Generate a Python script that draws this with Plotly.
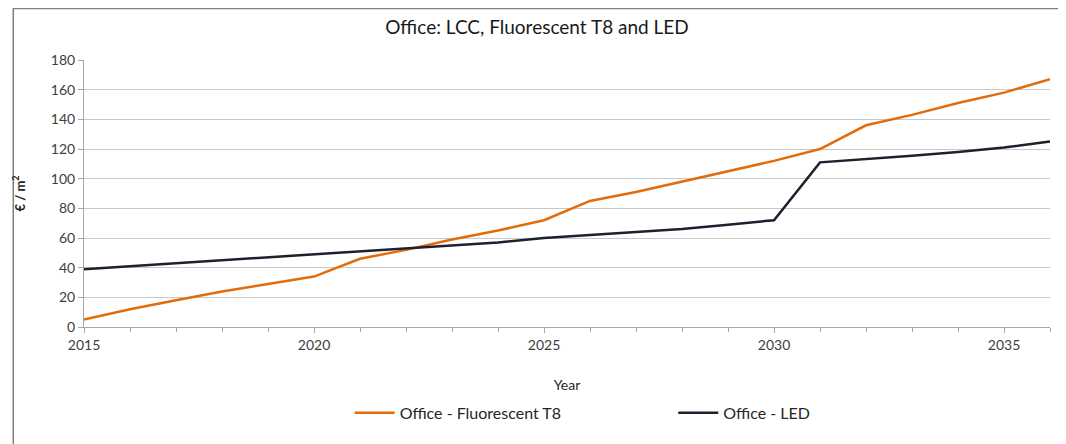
import plotly.graph_objects as go

# Data
years = list(range(2015, 2037))
fluorescent_t8 = [5, 12, 18, 24, 29, 34, 46, 52, 59, 65, 72, 85, 91, 98, 105,
                  112, 120, 136, 143, 151, 158, 167]
led = [39, 41, 43, 45, 47, 49, 51, 53, 55, 57, 60, 62, 64, 66, 69,
       72, 111, 113, 115.5, 118, 121, 125]
x_ticks = [2015, 2020, 2025, 2030, 2035]
y_ticks = [0, 20, 40, 60, 80, 100, 120, 140, 160, 180]

FONT = "Lato"
GRID = "#c8c8c8"
AXIS = "#a6a6a6"

fig = go.Figure()
fig.add_trace(go.Scatter(x=years, y=fluorescent_t8, mode="lines",
                         name="Office - Fluorescent T8", legend="legend",
                         line=dict(color="#e36c0a", width=2.5)))
fig.add_trace(go.Scatter(x=years, y=led, mode="lines",
                         name="Office - LED", legend="legend2",
                         line=dict(color="#1f1f2e", width=2.5)))

# page body has an 8px margin, so the figure is shifted by that amount
legend_style = dict(orientation="h", xanchor="left", yanchor="middle",
                    y=-0.322, itemwidth=40, bgcolor="rgba(0,0,0,0)",
                    font=dict(family=FONT, size=16, color="#262626"))

fig.update_layout(
    width=1058, height=436,
    paper_bgcolor="white", plot_bgcolor="white",
    margin=dict(l=72, r=16, t=52, b=117),
    font=dict(family=FONT, size=14, color="#404040"),
    title=dict(text="Office: LCC, Fluorescent T8 and LED",
               x=0.5, xanchor="center", y=0.956, yanchor="middle",
               font=dict(family=FONT, size=19, color="#1a1a1a")),
    legend=dict(x=0.275, **legend_style),
    legend2=dict(x=0.61, **legend_style),
    showlegend=True,
)

fig.update_xaxes(
    range=[2015, 2036], tickvals=x_ticks,
    showgrid=False, zeroline=False,
    showline=True, linecolor=AXIS, linewidth=1,
    ticks="outside", ticklen=5, tickcolor=AXIS,
    minor=dict(dtick=1, ticks="outside", ticklen=4, tickcolor=AXIS),
    title=dict(text="Year", font=dict(family=FONT, size=14, color="#262626"),
               standoff=28),
    tickfont=dict(family=FONT, size=14, color="#404040"),
)
fig.update_yaxes(
    range=[0, 180], tickvals=y_ticks,
    showgrid=True, gridcolor=GRID, gridwidth=1, zeroline=False,
    showline=True, linecolor=AXIS, linewidth=1,
    ticks="outside", ticklen=5, tickcolor=AXIS,
    title=dict(text="<b>€ / m<sup>2</sup></b>",
               font=dict(family=FONT, size=13, color="#262626"),
               standoff=22),
    tickfont=dict(family=FONT, size=14, color="#404040"),
)

# Outer chart border (runs off the right and bottom of the page)
fig.add_shape(type="rect", xref="paper", yref="paper",
              x0=-0.0732, x1=1.2, y0=-0.5, y1=1.193,
              line=dict(color="#7f7f7f", width=1.5), layer="below")

fig.write_html("out.html")
